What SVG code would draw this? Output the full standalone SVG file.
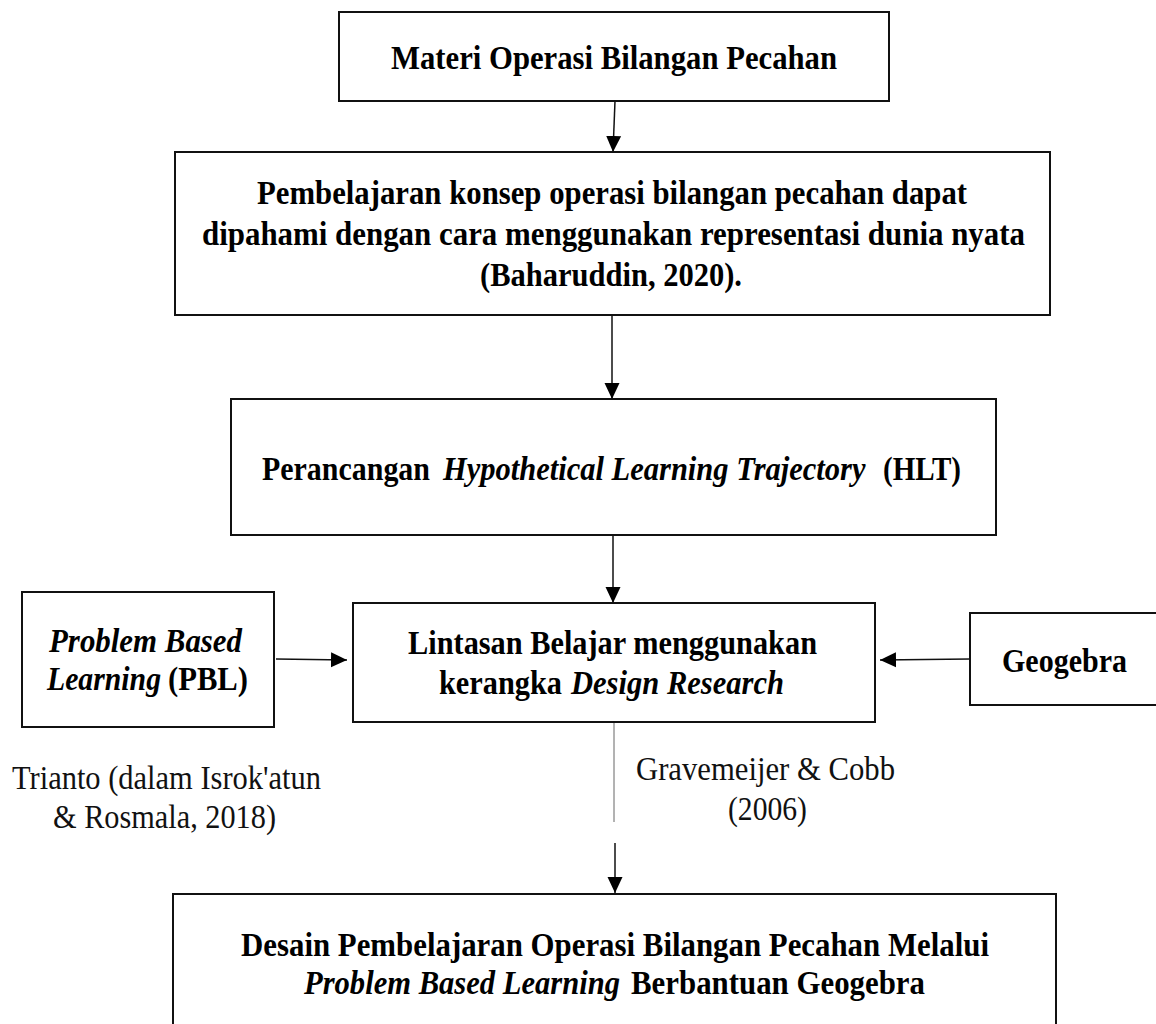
<svg xmlns="http://www.w3.org/2000/svg" width="1156" height="1024" viewBox="0 0 1156 1024">
<style>
.box{fill:#fff;stroke:#111;stroke-width:2}
.b{font-family:"Liberation Serif","Times New Roman",serif;font-weight:bold;font-size:33px;fill:#000}
.r{font-family:"Liberation Serif","Times New Roman",serif;font-size:34px;fill:#111}
.i{font-style:italic}
.con{stroke:#111;stroke-width:1.5;fill:none}
</style>
<defs>
<marker id="ah" markerUnits="userSpaceOnUse" markerWidth="16" markerHeight="16" viewBox="0 0 16 16" refX="16" refY="8" orient="auto">
<path d="M0,0.5 L16,8 L0,15.5 Z" fill="#000"/>
</marker>
</defs>
<rect width="1156" height="1024" fill="#fff"/>
<g id="connectors">
<line class="con" x1="615" y1="101" x2="613" y2="152" marker-end="url(#ah)"/>
<line class="con" x1="612" y1="311" x2="612" y2="399" marker-end="url(#ah)"/>
<line class="con" x1="613" y1="535" x2="613" y2="603" marker-end="url(#ah)"/>
<line class="con" x1="276" y1="659" x2="347" y2="660" marker-end="url(#ah)"/>
<line class="con" x1="970" y1="659" x2="880" y2="660" marker-end="url(#ah)"/>
<line x1="614" y1="722" x2="614" y2="822" stroke="#666" stroke-width="1"/>
<line class="con" x1="615" y1="843" x2="615" y2="893" marker-end="url(#ah)"/>
</g>
<g id="n1">
<rect class="box" x="339" y="12" width="550" height="89"/>
<text class="b" x="391" y="69" textLength="446" lengthAdjust="spacingAndGlyphs">Materi Operasi Bilangan Pecahan</text>
</g>
<g id="n2">
<rect class="box" x="175" y="152" width="875" height="163"/>
<text class="b" x="257" y="204" textLength="710" lengthAdjust="spacingAndGlyphs">Pembelajaran konsep operasi bilangan pecahan dapat</text>
<text class="b" x="202" y="245" textLength="823" lengthAdjust="spacingAndGlyphs">dipahami dengan cara menggunakan representasi dunia nyata</text>
<text class="b" x="480" y="286" textLength="262" lengthAdjust="spacingAndGlyphs">(Baharuddin, 2020).</text>
</g>
<g id="n3">
<rect class="box" x="231" y="399" width="765" height="136"/>
<text class="b" x="262" y="480" textLength="168" lengthAdjust="spacingAndGlyphs">Perancangan</text>
<text class="b i" transform="translate(443,480) scale(0.925,1)">Hypothetical Learning Trajectory</text>
<text class="b" x="883" y="480" textLength="78" lengthAdjust="spacingAndGlyphs">(HLT)</text>
</g>
<g id="n4">
<rect class="box" x="353" y="603" width="522" height="119"/>
<text class="b" x="408" y="654" textLength="409" lengthAdjust="spacingAndGlyphs">Lintasan Belajar menggunakan</text>
<text class="b" x="439" y="694" textLength="123" lengthAdjust="spacingAndGlyphs">kerangka</text>
<text class="b i" x="571" y="694" textLength="213" lengthAdjust="spacingAndGlyphs">Design Research</text>
</g>
<g id="n5">
<rect class="box" x="22" y="592" width="252" height="135"/>
<text class="b i" x="49" y="652" textLength="193" lengthAdjust="spacingAndGlyphs">Problem Based</text>
<text class="b i" x="47" y="690" textLength="114" lengthAdjust="spacingAndGlyphs">Learning</text>
<text class="b" x="168" y="690" textLength="80" lengthAdjust="spacingAndGlyphs">(PBL)</text>
</g>
<g id="n6">
<rect class="box" x="970" y="613" width="192" height="92"/>
<text class="b" x="1002" y="672" textLength="125" lengthAdjust="spacingAndGlyphs">Geogebra</text>
</g>
<g id="n7">
<rect class="box" x="173" y="894" width="883" height="140"/>
<text class="b" x="241" y="956" textLength="748" lengthAdjust="spacingAndGlyphs">Desain Pembelajaran Operasi Bilangan Pecahan Melalui</text>
<text class="b i" x="304" y="994" textLength="316" lengthAdjust="spacingAndGlyphs">Problem Based Learning</text>
<text class="b" x="631" y="994" textLength="294" lengthAdjust="spacingAndGlyphs">Berbantuan Geogebra</text>
</g>
<g id="labels">
<text class="r" x="12" y="789" textLength="309" lengthAdjust="spacingAndGlyphs">Trianto (dalam Isrok'atun</text>
<text class="r" x="53" y="828" textLength="223" lengthAdjust="spacingAndGlyphs">&amp; Rosmala, 2018)</text>
<text class="r" x="636" y="780" textLength="259" lengthAdjust="spacingAndGlyphs">Gravemeijer &amp; Cobb</text>
<text class="r" x="728" y="820" textLength="79" lengthAdjust="spacingAndGlyphs">(2006)</text>
</g>
</svg>
